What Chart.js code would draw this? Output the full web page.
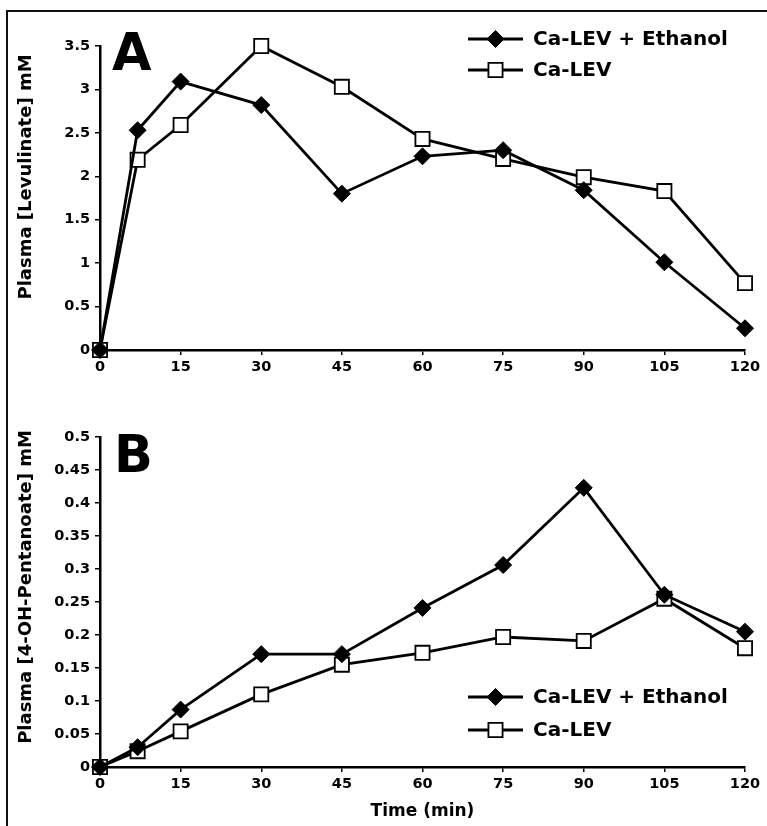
<!DOCTYPE html>
<html>
<head>
<meta charset="utf-8">
<script src="https://cdn.jsdelivr.net/npm/chart.js@4/dist/chart.umd.min.js"></script>
<style>
  body { margin: 0; background: #fff; }
  #wrap { position: relative; width: 767px; height: 826px; overflow: hidden; }
  #frame { position: absolute; left: 6px; top: 10px; width: 770px; height: 830px;
           border-top: 2px solid #111; border-left: 2px solid #111; }
  canvas { position: absolute; left: 0; }
  #chartA { top: 0; }
  #chartB { top: 385px; }
</style>
</head>
<body>
<div id="wrap">
  <div id="frame"></div>
  <canvas id="chartA" width="767" height="385"></canvas>
  <canvas id="chartB" width="767" height="441"></canvas>
</div>
<script>
// time points (min)
var times = [0, 7, 15, 30, 45, 60, 75, 90, 105, 120];
var xTicks = [0, 15, 30, 45, 60, 75, 90, 105, 120];

// panel A: plasma levulinate (mM)
var levEthanol = [0, 2.53, 3.09, 2.82, 1.8, 2.23, 2.3, 1.84, 1.01, 0.25];
var levOnly    = [0, 2.19, 2.59, 3.5, 3.03, 2.43, 2.2, 1.99, 1.83, 0.77];
var yTicksA = [0, 0.5, 1, 1.5, 2, 2.5, 3, 3.5];

// panel B: plasma 4-OH-pentanoate (mM)
var pentEthanol = [0, 0.03, 0.087, 0.171, 0.171, 0.241, 0.306, 0.423, 0.261, 0.205];
var pentOnly    = [0, 0.024, 0.054, 0.11, 0.155, 0.173, 0.197, 0.191, 0.255, 0.18];
var yTicksB = [0, 0.05, 0.1, 0.15, 0.2, 0.25, 0.3, 0.35, 0.4, 0.45, 0.5];

var seriesNames = ['Ca-LEV + Ethanol', 'Ca-LEV'];
var FONT = 'DejaVu Sans';

function pts(vals) {
  return vals.map(function(v, i) { return {x: times[i], y: v}; });
}

function drawMarker(ctx, ds, x, y) {
  ctx.save();
  ctx.fillStyle = ds.pointBackgroundColor;
  ctx.strokeStyle = ds.pointBorderColor;
  ctx.lineWidth = ds.pointBorderWidth;
  ctx.beginPath();
  var r = ds.pointRadius;
  if (ds.pointStyle == 'rectRot') {
    ctx.moveTo(x, y - r); ctx.lineTo(x + r, y); ctx.lineTo(x, y + r); ctx.lineTo(x - r, y);
  } else {
    var h = r * Math.SQRT1_2;
    ctx.rect(x - h, y - h, 2 * h, 2 * h);
  }
  ctx.closePath();
  ctx.fill();
  ctx.stroke();
  ctx.restore();
}

// legend, panel letter and rotated y title
var panelDecor = {
  id: 'panelDecor',
  afterDraw: function(chart, args, o) {
    var ctx = chart.ctx;
    ctx.save();
    ctx.fillStyle = '#000';
    ctx.font = 'bold 51px ' + FONT;
    ctx.textBaseline = 'alphabetic';
    ctx.textAlign = 'left';
    ctx.fillText(o.letter, o.lx, o.ly);

    ctx.save();
    ctx.translate(o.tx, o.ty);
    ctx.rotate(-Math.PI / 2);
    ctx.font = 'bold 18px ' + FONT;
    ctx.textAlign = 'center';
    ctx.textBaseline = 'middle';
    ctx.fillText(o.title, 0, 0);
    ctx.restore();

    chart.data.datasets.forEach(function(ds, i) {
      var y = o.legY[i];
      ctx.strokeStyle = ds.borderColor;
      ctx.lineWidth = ds.borderWidth;
      ctx.beginPath();
      ctx.moveTo(o.legX1, y);
      ctx.lineTo(o.legX2, y);
      ctx.stroke();
      drawMarker(ctx, ds, (o.legX1 + o.legX2) / 2, y);
      ctx.fillStyle = '#000';
      ctx.font = 'bold 20px ' + FONT;
      ctx.textAlign = 'left';
      ctx.textBaseline = 'middle';
      ctx.fillText(ds.label, o.legTextX, y + 1);
    });
    ctx.restore();
  }
};

function makeChart(id, a, b, yTicks, yMax, decor, xTitle, pad, xH) {
  return new Chart(document.getElementById(id), {
    type: 'line',
    data: {
      datasets: [
        {label: seriesNames[0], data: pts(a), borderColor: '#000', borderWidth: 2.8,
         pointStyle: 'rectRot', pointRadius: 8.5, pointBackgroundColor: '#000',
         pointBorderColor: '#000', pointBorderWidth: 1, clip: false, tension: 0},
        {label: seriesNames[1], data: pts(b), borderColor: '#000', borderWidth: 2.8,
         pointStyle: 'rect', pointRadius: 10, pointBackgroundColor: '#fff',
         pointBorderColor: '#000', pointBorderWidth: 1.8, clip: false, tension: 0}
      ]
    },
    options: {
      responsive: false,
      animation: false,
      devicePixelRatio: 1,
      layout: {padding: pad},
      plugins: {
        legend: {display: false},
        tooltip: {enabled: false},
        panelDecor: decor
      },
      scales: {
        x: {
          type: 'linear', min: 0, max: 120,
          afterBuildTicks: function(s) { s.ticks = xTicks.map(function(v) { return {value: v}; }); },
          afterFit: function(s) { s.height = xH; },
          ticks: {color: '#000', font: {family: FONT, size: 14.5, weight: 'bold'}, padding: 4, maxRotation: 0},
          grid: {drawOnChartArea: false, color: '#000', lineWidth: 1.5, tickLength: 5},
          border: {color: '#000', width: 2.5},
          title: {display: !!xTitle, text: xTitle, color: '#000',
                  font: {family: FONT, size: 17, weight: 'bold'}}
        },
        y: {
          min: 0, max: yMax,
          afterBuildTicks: function(s) { s.ticks = yTicks.map(function(v) { return {value: v}; }); },
          afterFit: function(s) { s.width = 100; },
          ticks: {color: '#000', font: {family: FONT, size: 14.5, weight: 'bold'}, padding: 5,
                  callback: function(v) { return String(v); }},
          grid: {drawOnChartArea: false, color: '#000', lineWidth: 1.5, tickLength: 5},
          border: {color: '#000', width: 2.5}
        }
      }
    },
    plugins: [panelDecor]
  });
}

makeChart('chartA', levEthanol, levOnly, yTicksA, 3.5,
  {letter: 'A', lx: 112, ly: 70, title: 'Plasma [Levulinate] mM', tx: 26, ty: 177,
   legX1: 468, legX2: 523, legTextX: 533, legY: [39, 70]},
  '', {top: 46, right: 22, bottom: 0, left: 0}, 35);

makeChart('chartB', pentEthanol, pentOnly, yTicksB, 0.5,
  {letter: 'B', lx: 114, ly: 87, title: 'Plasma [4-OH-Pentanoate] mM', tx: 26, ty: 202,
   legX1: 468, legX2: 523, legTextX: 533, legY: [312, 345]},
  'Time (min)', {top: 52, right: 22, bottom: 0, left: 0}, 59);
</script>
</body>
</html>
